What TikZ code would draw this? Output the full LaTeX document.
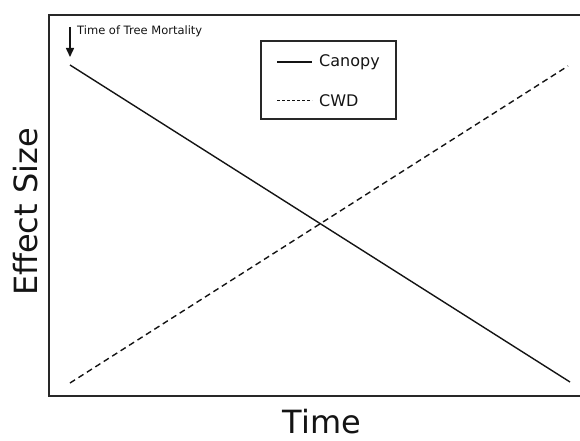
\documentclass[tikz,border=0pt]{standalone}
\usepackage{fontspec}
\setmainfont{DejaVu Sans}
\usepackage{xcolor}
\usepackage{tikz}
\usetikzlibrary{arrows.meta}
\definecolor{inkgrey}{RGB}{20,20,20}
\definecolor{framegrey}{RGB}{40,40,40}

\tikzset{
  trend/.style={draw=inkgrey, line width=1.4pt},
  cwdtrend/.style={trend, dash pattern=on 6pt off 4pt},
  axislabel/.style={font=\fontsize{32}{38}\selectfont, text=inkgrey, inner sep=0pt}
}

\begin{document}
\begin{tikzpicture}[x=1pt, y=-1pt]
\useasboundingbox (0,0) rectangle (580,441);
% plot frame (runs off the right edge)
\draw[draw=framegrey, line width=2pt] (49,15) rectangle (590,396);
\coordinate (canopystart) at (70,65);
\coordinate (canopyend) at (570,382);
\coordinate (cwdstart) at (70,383);
\coordinate (cwdend) at (568,66);
\draw[trend] (canopystart) -- (canopyend);
\draw[cwdtrend] (cwdstart) -- (cwdend);
% mortality marker
\coordinate (mortop) at (70,27);
\coordinate (morttip) at (70,57);
\draw[draw=inkgrey, line width=1.5pt, -{Triangle[length=9pt, width=8pt]}] (mortop) -- (morttip);
\node[anchor=base west, inner sep=0pt, font=\fontsize{11.5}{14}\selectfont, text=inkgrey] (mortlabel) at (77,35) {Time of Tree Mortality};
% legend
\node[draw=framegrey, line width=1.5pt, minimum width=135pt, minimum height=78pt] (legend) at (328.5,80) {};
\coordinate (canopykeyA) at (277,62);
\coordinate (canopykeyB) at (312,62);
\coordinate (cwdkeyA) at (277,101);
\coordinate (cwdkeyB) at (312,101);
\draw[trend, line width=1.2pt] (canopykeyA) -- (canopykeyB);
\draw[draw=inkgrey, line width=1pt, dash pattern=on 3pt off 2pt] (cwdkeyA) -- (cwdkeyB);
\node[anchor=west, inner sep=0pt, font=\fontsize{16}{19}\selectfont, text=inkgrey] (canopykey) at (319,62) {Canopy};
\node[anchor=west, inner sep=0pt, font=\fontsize{16}{19}\selectfont, text=inkgrey] (cwdkey) at (319,101) {CWD};
% axis titles
\node[axislabel, anchor=base] (xtitle) at (322,433) {Time};
\node[axislabel, anchor=base, rotate=90] (ytitle) at (37,212) {Effect Size};
\end{tikzpicture}
\end{document}
